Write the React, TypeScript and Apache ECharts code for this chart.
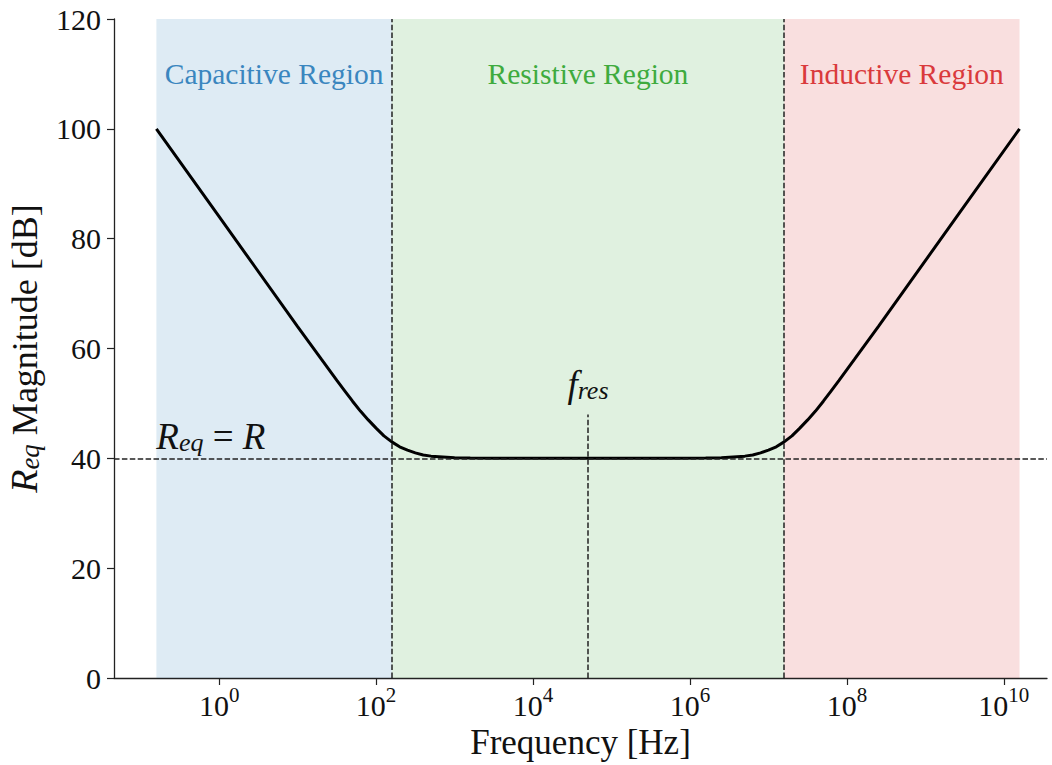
import React, { useEffect, useRef } from "react";
import * as echarts from "echarts";

// ---- data (log10 of frequency in Hz, magnitude in dB) ----
const freqLog = [
  -0.8, 0, 1, 1.3, 1.5, 1.6, 1.7, 1.8, 1.9, 2.0, 2.1, 2.2, 2.3, 2.4, 2.5, 2.6,
  2.7, 2.8, 2.9, 3.0, 3.2, 3.5, 4.7, 5.9, 6.2, 6.4, 6.5, 6.6, 6.7, 6.8, 6.9, 7.0,
  7.1, 7.2, 7.3, 7.4, 7.5, 7.6, 7.7, 7.8, 7.9, 8.1, 8.4, 9.4, 10.2,
];
const magnitudeDb = [
  100, 84, 64.0, 58.1, 54.2, 52.3, 50.4, 48.6, 47.0, 45.5, 44.1, 43.0, 42.1,
  41.5, 41.0, 40.6, 40.4, 40.3, 40.2, 40.1, 40.04, 40.01, 40, 40.01, 40.04,
  40.1, 40.2, 40.3, 40.4, 40.6, 41.0, 41.5, 42.1, 43.0, 44.1, 45.5, 47.0, 48.6,
  50.4, 52.3, 54.2, 58.1, 64.0, 84, 100,
];
const regionNames = ["Capacitive Region", "Resistive Region", "Inductive Region"];
const regionStartLog = [-0.8, 2.2, 7.2];
const regionEndLog = [2.2, 7.2, 10.2];
const regionLabelDb = 110;
const boundaryLog = [2.2, 7.2];
const resonanceLog = 4.7;
const resistanceDb = 40;
const fresLineTopDb = 48;
const fresLabelDb = 50;
const reqLabelLog = -0.8;
const reqLabelDb = 40.6;
const xTickExponents = [0, 2, 4, 6, 8, 10];
const xMin = -1.34;
const xMax = 10.55;
const yMin = 0;
const yMax = 120;
const yInterval = 20;

// ---- styles ----
const FONT = "'Liberation Serif', 'Times New Roman', serif";
const TEXT = "#111111";
const regionFill = [
  "rgba(31,119,180,0.15)",
  "rgba(44,160,44,0.15)",
  "rgba(214,39,40,0.15)",
];
const regionText = ["#3a86bf", "#3eab3e", "#da3a3c"];

export default function App() {
  const ref = useRef<HTMLDivElement>(null);
  useEffect(() => {
    if (!ref.current) return;
    const chart = echarts.init(ref.current, undefined, { renderer: "svg" });
    const curve = freqLog.map((x, i) => [x, magnitudeDb[i]]);
    const mathRich = {
      i: { fontFamily: FONT, fontStyle: "italic", fontSize: 37, color: TEXT, lineHeight: 40, verticalAlign: "bottom" },
      n: { fontFamily: FONT, fontSize: 37, color: TEXT, lineHeight: 40, verticalAlign: "bottom" },
      sub: { fontFamily: FONT, fontStyle: "italic", fontSize: 26, color: TEXT, lineHeight: 26, verticalAlign: "bottom" },
    };
    const option: any = {
      animation: false,
      backgroundColor: "#ffffff",
      grid: { left: 114, right: 5, top: 19, bottom: 87, containLabel: false, outerBoundsMode: "none" },
      xAxis: {
        type: "value",
        min: xMin,
        max: xMax,
        name: "Frequency [Hz]",
        nameLocation: "middle",
        nameGap: 44,
        nameTextStyle: { fontFamily: FONT, fontSize: 35, color: TEXT },
        axisLine: { show: true, onZero: false, lineStyle: { color: "#222", width: 1.3 } },
        axisTick: { show: true, length: 7, inside: false, customValues: xTickExponents, lineStyle: { color: "#222", width: 1.2 } },
        axisLabel: {
          show: true,
          margin: 6,
          fontFamily: FONT,
          fontSize: 30,
          color: TEXT,
          customValues: xTickExponents,
          formatter: (v: number) => `{b|10}{s|${Math.round(v)}}`,
          rich: {
            b: { fontFamily: FONT, fontSize: 30, color: TEXT, lineHeight: 36, verticalAlign: "bottom" },
            s: { fontFamily: FONT, fontSize: 21, color: TEXT, lineHeight: 22, verticalAlign: "top" },
          },
        },
        splitLine: { show: false },
      },
      yAxis: {
        type: "value",
        min: yMin,
        max: yMax,
        interval: yInterval,
        name: "{i|R}{sub|eq}{n| Magnitude [dB]}",
        nameLocation: "middle",
        nameGap: 71,
        nameTextStyle: {
          fontFamily: FONT,
          fontSize: 36,
          color: TEXT,
          rich: {
            i: { fontFamily: FONT, fontStyle: "italic", fontSize: 38, color: TEXT, lineHeight: 40, verticalAlign: "bottom" },
            n: { fontFamily: FONT, fontSize: 36, color: TEXT, lineHeight: 40, verticalAlign: "bottom" },
            sub: { fontFamily: FONT, fontStyle: "italic", fontSize: 27, color: TEXT, lineHeight: 26, verticalAlign: "bottom" },
          },
        },
        axisLine: { show: true, onZero: false, lineStyle: { color: "#222", width: 1.3 } },
        axisTick: { show: true, length: 7, inside: false, lineStyle: { color: "#222", width: 1.2 } },
        axisLabel: { show: true, margin: 13, fontFamily: FONT, fontSize: 30, color: TEXT },
        splitLine: { show: false },
      },
      series: [
        {
          type: "line",
          data: [],
          z: 1,
          silent: true,
          markArea: {
            silent: true,
            label: { show: false },
            data: regionNames.map((_, i) => [
              { xAxis: regionStartLog[i], yAxis: yMin, itemStyle: { color: regionFill[i] } },
              { xAxis: regionEndLog[i], yAxis: yMax },
            ]),
          },
        },
        {
          type: "line",
          data: [],
          z: 2,
          silent: true,
          markLine: {
            silent: true,
            symbol: ["none", "none"],
            label: { show: false },
            lineStyle: { color: "#222", width: 1.5, type: [5.5, 2.4] },
            data: [
              ...boundaryLog.map((v) => ({ xAxis: v })),
              { yAxis: resistanceDb },
              [
                { coord: [resonanceLog, yMin] },
                { coord: [resonanceLog, fresLineTopDb] },
              ],
            ],
          },
        },
        {
          type: "line",
          data: curve,
          z: 3,
          showSymbol: false,
          symbol: "none",
          smooth: false,
          lineStyle: { color: "#000", width: 3 },
          silent: true,
        },
        {
          type: "scatter",
          z: 4,
          symbolSize: 1,
          itemStyle: { color: "rgba(0,0,0,0)", opacity: 1 },
          silent: true,
          data: [
            ...regionNames.map((name, i) => ({
              value: [(regionStartLog[i] + regionEndLog[i]) / 2, regionLabelDb],
              label: {
                show: true,
                position: "inside",
                formatter: name,
                fontFamily: FONT,
                fontSize: 29.5,
                color: regionText[i],
                opacity: 1,
                align: "center",
                verticalAlign: "middle",
              },
            })),
            {
              value: [reqLabelLog, reqLabelDb],
              label: {
                show: true,
                position: "inside",
                formatter: "{i|R}{sub|eq}{n| = }{i|R}",
                rich: mathRich,
                opacity: 1,
                align: "left",
                verticalAlign: "bottom",
              },
            },
            {
              value: [resonanceLog, fresLabelDb],
              label: {
                show: true,
                position: "inside",
                formatter: "{i|f}{sub|res}",
                rich: mathRich,
                opacity: 1,
                align: "center",
                verticalAlign: "bottom",
              },
            },
          ],
        },
      ],
    };
    chart.setOption(option);
    return () => chart.dispose();
  }, []);
  return (
    <div
      ref={ref}
      style={{ position: "fixed", left: 0, top: 0, width: 1052, height: 765, background: "#fff" }}
    />
  );
}
